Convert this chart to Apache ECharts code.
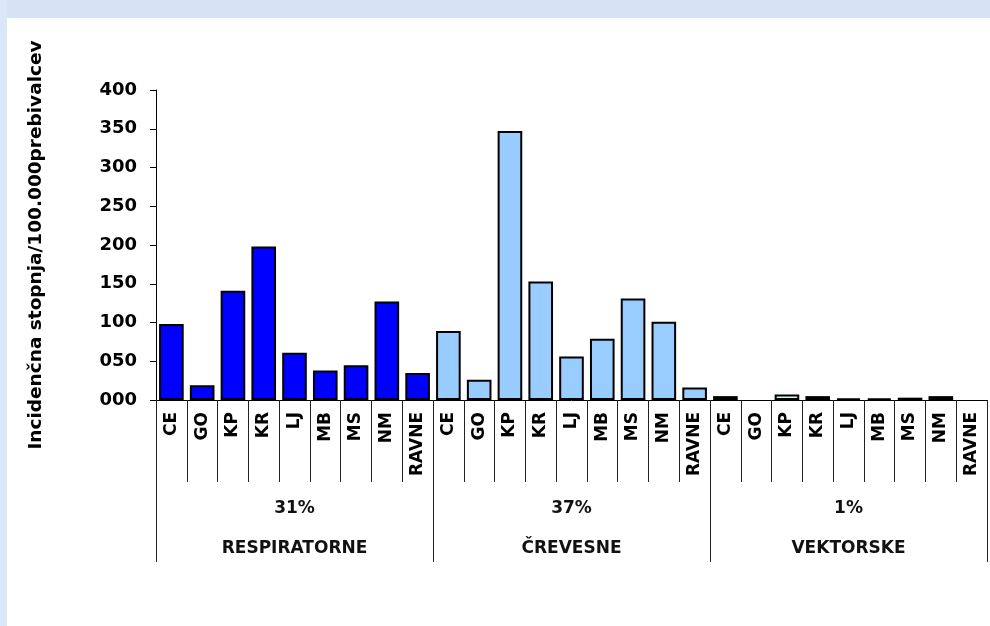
<!DOCTYPE html>
<html>
<head>
<meta charset="utf-8">
<script src="https://cdn.jsdelivr.net/npm/echarts@6/dist/echarts.min.js"></script>
<style>
  html, body { margin: 0; padding: 0; background: #ffffff; }
  #chart { width: 990px; height: 626px; }
</style>
</head>
<body>
<div id="chart"></div>
<script>
// Regions (repeated inside each disease group)
const regions = ['CE', 'GO', 'KP', 'KR', 'LJ', 'MB', 'MS', 'NM', 'RAVNE'];

// Disease groups and their share
const groups = ['RESPIRATORNE', 'ČREVESNE', 'VEKTORSKE'];
const groupShares = ['31%', '37%', '1%'];

// Incidence per 100,000 inhabitants, by region
const respiratorne = [98, 19, 141, 198, 61, 38, 45, 127, 35];
const crevesne = [89, 26, 347, 153, 56, 79, 131, 101, 16];
const vektorske = [5, 0, 7, 5, 2, 2, 3, 5, 0];

// Value axis labels
const yTickLabels = ['000', '050', '100', '150', '200', '250', '300', '350', '400'];

const groupValues = [respiratorne, crevesne, vektorske];
const groupColors = ['#0000ff', '#99ccff', '#ccffff'];

// one category per region inside every group
const categories = [];
groups.forEach(() => regions.forEach(r => categories.push(r)));

// each group is its own series, empty outside its block of regions
const series = groups.map((g, gi) => {
  const data = categories.map(() => null);
  groupValues[gi].forEach((v, ri) => {
    data[gi * regions.length + ri] = v > 0 ? v : null;
  });
  return {
    name: g,
    type: 'bar',
    stack: 'all',
    xAxisIndex: 0,
    yAxisIndex: 0,
    barCategoryGap: '20%',
    itemStyle: { color: groupColors[gi], borderColor: '#000000', borderWidth: 2 },
    data: data
  };
});

const chart = echarts.init(document.getElementById('chart'), null, { renderer: 'canvas' });

chart.setOption({
  backgroundColor: '#ffffff',
  animation: false,
  graphic: [
    { type: 'rect', left: 0, top: 0, shape: { width: 990, height: 18 }, style: { fill: '#d5e3f4' }, silent: true, z: -10 },
    { type: 'rect', left: 0, top: 0, shape: { width: 7, height: 626 }, style: { fill: '#dae7f6' }, silent: true, z: -10 }
  ],
  grid: { left: 156, right: 3, top: 90, bottom: 226, containLabel: false },
  xAxis: [
    {
      type: 'category',
      data: categories,
      position: 'bottom',
      boundaryGap: true,
      axisLine: { show: true, lineStyle: { color: '#000000', width: 1 } },
      axisTick: { show: true, interval: 0, length: 82, lineStyle: { color: '#222222', width: 1 } },
      axisLabel: {
        interval: 0,
        rotate: 90,
        margin: 12,
        color: '#000000',
        fontFamily: 'DejaVu Sans',
        fontWeight: 'bold',
        fontSize: 17
      }
    },
    {
      type: 'category',
      data: groups,
      position: 'bottom',
      offset: 0,
      boundaryGap: true,
      axisLine: { show: false },
      axisTick: { show: true, interval: 0, length: 162, lineStyle: { color: '#222222', width: 1 } },
      axisLabel: {
        interval: 0,
        margin: 89,
        formatter: (v, i) => '{p|' + groupShares[i] + '}\n{n|' + v + '}',
        rich: {
          p: { fontFamily: 'DejaVu Sans', fontWeight: 'bold', fontSize: 17, lineHeight: 40, color: '#111111' },
          n: { fontFamily: 'DejaVu Sans', fontWeight: 'bold', fontSize: 17, lineHeight: 40, color: '#111111' }
        }
      }
    }
  ],
  yAxis: {
    type: 'value',
    min: 0,
    max: 400,
    interval: 50,
    name: 'Incidenčna stopnja/100.000prebivalcev',
    nameLocation: 'middle',
    nameRotate: 90,
    nameGap: 110,
    nameTextStyle: { fontFamily: 'DejaVu Sans', fontWeight: 'bold', fontSize: 18.5, color: '#000000' },
    axisLine: { show: true, lineStyle: { color: '#000000', width: 1 } },
    axisTick: { show: true, length: 6, lineStyle: { color: '#000000' } },
    splitLine: { show: false },
    axisLabel: {
      margin: 19,
      color: '#000000',
      fontFamily: 'DejaVu Sans',
      fontWeight: 'bold',
      fontSize: 18,
      formatter: v => yTickLabels[Math.round(v / 50)]
    }
  },
  series: series
});
</script>
</body>
</html>
